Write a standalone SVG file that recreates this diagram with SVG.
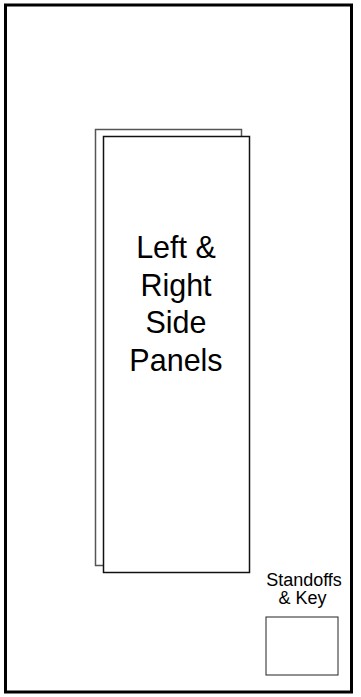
<svg xmlns="http://www.w3.org/2000/svg" width="361" height="697" viewBox="0 0 361 697">
<style>
text{font-family:"Liberation Sans",Arial,sans-serif;fill:#000;text-anchor:middle}
.frame{fill:#fff;stroke:#000;stroke-width:3}
.back{fill:none;stroke:#555;stroke-width:1.5}
.front{fill:#fff;stroke:#111;stroke-width:1.5}
.box{fill:#fff;stroke:#222;stroke-width:1}
.big{font-size:30.5px}
.small{font-size:18px}
</style>
<rect class="frame" x="5.5" y="5" width="346" height="687"/>
<g id="panels">
<rect class="back" x="95.5" y="129.5" width="146" height="436"/>
<rect class="front" x="103.5" y="136.5" width="146" height="436"/>
<text class="big" x="176" y="258">Left &amp;</text>
<text class="big" x="176" y="295.5">Right</text>
<text class="big" x="176" y="333">Side</text>
<text class="big" x="176" y="370.5">Panels</text>
</g>
<g id="standoffs">
<text class="small" x="304" y="585.5">Standoffs</text>
<text class="small" x="302.5" y="604">&amp; Key</text>
<rect class="box" x="266" y="617" width="72" height="58"/>
</g>
<g id="connectors"/>
</svg>
